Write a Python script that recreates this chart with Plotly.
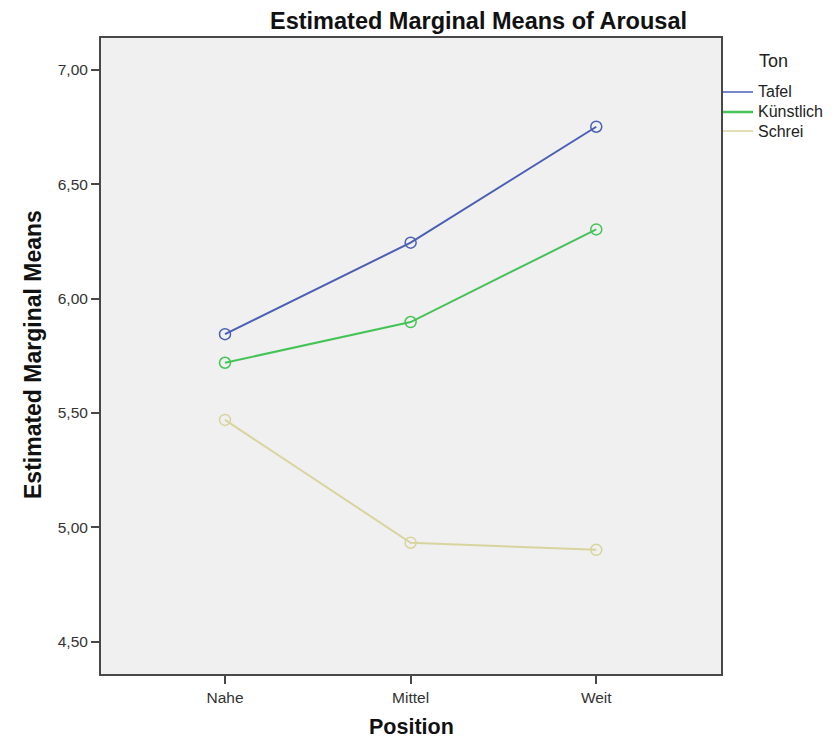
import plotly.graph_objects as go

positions = ["Nahe", "Mittel", "Weit"]
tafel = [5.845, 6.245, 6.752]
kuenstlich = [5.720, 5.898, 6.303]
schrei = [5.470, 4.933, 4.902]
series_names = ["Tafel", "Künstlich", "Schrei"]
colors = ["#4a5fb5", "#45c356", "#d9d49e"]
y_ticks = [4.5, 5.0, 5.5, 6.0, 6.5, 7.0]
y_ticklabels = ["4,50", "5,00", "5,50", "6,00", "6,50", "7,00"]

FONT = "Liberation Sans, Arial, sans-serif"

fig = go.Figure()
for name, vals, col in zip(series_names, [tafel, kuenstlich, schrei], colors):
    fig.add_trace(go.Scatter(
        x=[0, 1, 2], y=vals, name=name, mode="lines+markers", showlegend=False,
        line=dict(color=col, width=2),
        marker=dict(symbol="circle-open", size=11, color=col, line=dict(width=1.5)),
    ))

axis_common = dict(showline=True, linecolor="#484848", linewidth=2, mirror=True,
                   ticks="outside", ticklen=8, tickwidth=2, tickcolor="#484848",
                   showgrid=False, zeroline=False,
                   tickfont=dict(family=FONT, size=15.5, color="#333333"))

# plot area: screen x 101..721, y 38..674 (page has 8px offset)
L, R, T, B = 101, 721, 38, 674
def px(x):
    return (x - L) / (R - L)
def py(y):
    return 1 - (y - T) / (B - T)

annotations = [
    dict(text="<b>Estimated Marginal Means of Arousal</b>", x=px(479), y=py(21),
         xref="paper", yref="paper", xanchor="center", yanchor="middle", showarrow=False,
         font=dict(family=FONT, size=23.5, color="#111111")),
    dict(text="<b>Estimated Marginal Means</b>", x=px(33), y=py(355), textangle=-90,
         xref="paper", yref="paper", xanchor="center", yanchor="middle", showarrow=False,
         font=dict(family=FONT, size=23, color="#111111")),
    dict(text="<b>Position</b>", x=px(411), y=py(727),
         xref="paper", yref="paper", xanchor="center", yanchor="middle", showarrow=False,
         font=dict(family=FONT, size=21.5, color="#111111")),
    dict(text="Ton", x=px(773), y=py(61),
         xref="paper", yref="paper", xanchor="center", yanchor="middle", showarrow=False,
         font=dict(family=FONT, size=18, color="#222222")),
]
shapes = []
legend_y = [92, 112, 131]
legend_w = [1.5, 2.5, 1.5]
for name, col, ly, lw in zip(series_names, colors, legend_y, legend_w):
    shapes.append(dict(type="line", xref="paper", yref="paper", x0=px(723), x1=px(753),
                       y0=py(ly), y1=py(ly), line=dict(color=col, width=lw)))
    annotations.append(dict(text=name, x=px(756), y=py(ly), xref="paper", yref="paper",
                            xanchor="left", yanchor="middle", showarrow=False,
                            font=dict(family=FONT, size=16, color="#222222")))

fig.update_layout(
    width=839, height=742,
    margin=dict(l=93, r=126, t=30, b=76),
    paper_bgcolor="white", plot_bgcolor="#f0f0f0",
    xaxis=dict(range=[-0.668, 2.672], tickvals=[0, 1, 2], ticktext=positions, **axis_common),
    yaxis=dict(range=[4.359, 7.14], tickvals=y_ticks, ticktext=y_ticklabels, **axis_common),
    annotations=annotations,
    shapes=shapes,
    showlegend=False,
)
fig.write_html("out.html")
